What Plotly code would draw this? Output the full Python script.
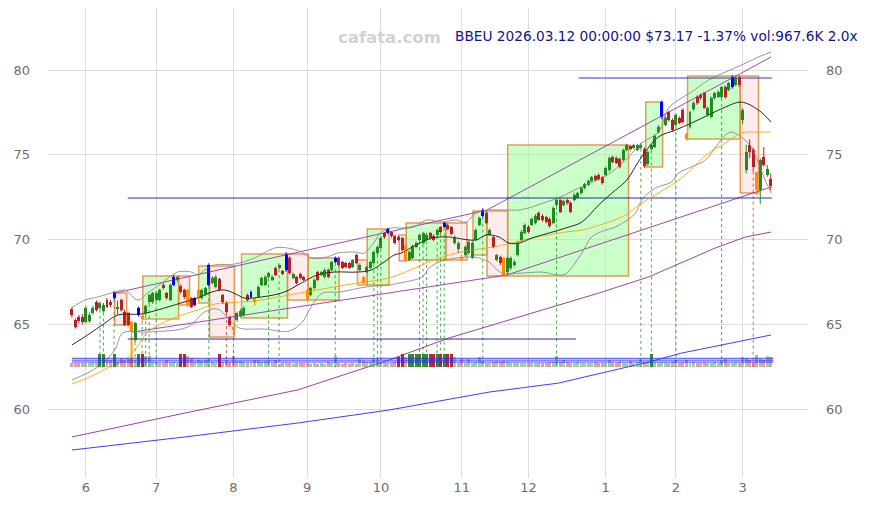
import pandas as pd
import plotly.graph_objects as go

# --- datos ---
TITLE_TXT = "BBEU 2026.03.12 00:00:00 $73.17 -1.37% vol:967.6K 2.0x"
WATERMARK = "cafata.com"

HOLIDAYS = ["2025-06-19", "2025-07-04", "2025-09-01", "2025-11-27",
            "2025-12-25", "2026-01-01", "2026-01-19", "2026-02-16"]

opens = [65.90, 65.25, 65.43, 65.43, 65.13, 65.20, 65.66, 66.31, 65.96, 65.78,
         66.43, 66.31, 66.55, 65.95, 66.43, 65.72, 65.66, 65.13, 64.07, 65.55,
         65.49, 65.66, 66.31, 66.31, 66.43, 66.43, 67.32, 66.84, 66.43, 67.32,
         67.61, 67.26, 67.02, 67.02, 66.55, 66.14, 66.55, 66.55, 66.73, 67.32,
         67.43, 67.20, 67.67, 66.73, 66.25, 65.43, 64.84, 65.25, 65.49, 65.55,
         66.73, 66.61, 66.55, 66.61, 67.32, 67.32, 67.79, 67.61, 68.32, 68.32,
         68.14, 68.20, 68.91, 67.73, 67.79, 67.97, 67.79, 67.02, 66.73, 67.14,
         68.08, 67.91, 67.79, 68.20, 68.20, 68.67, 68.91, 68.67, 68.61, 68.61,
         68.38, 69.08, 68.20, 67.79, 68.08, 68.32, 68.61, 69.20, 69.50, 70.38,
         70.38, 70.44, 70.21, 70.15, 70.09, 69.68, 68.79, 68.91, 69.56, 69.97,
         69.79, 69.97, 70.38, 70.21, 70.27, 70.74, 70.74, 70.86, 70.74, 69.79,
         69.44, 68.97, 69.08, 69.20, 68.91, 69.97, 70.86, 71.39, 71.56, 70.27,
         70.15, 68.79, 68.97, 68.91, 68.08, 68.32, 68.50, 69.08, 69.97, 70.38,
         70.74, 70.86, 70.97, 71.56, 71.39, 71.33, 71.21, 70.97, 72.04, 72.33,
         72.04, 72.33, 72.15, 72.33, 72.45, 72.74, 73.04, 73.22, 73.45, 73.75,
         73.81, 73.69, 73.81, 74.10, 74.87, 74.81, 74.75, 74.69, 75.28, 75.52,
         75.40, 75.28, 75.40, 75.34, 74.45, 75.34, 75.46, 76.34, 77.23, 76.76,
         77.52, 77.05, 76.76, 77.17, 77.64, 76.22, 76.64, 77.70, 78.41, 78.53,
         78.64, 77.35, 77.23, 78.35, 78.41, 78.41, 78.99, 78.82, 78.99, 79.11,
         79.53, 77.05, 74.10, 75.58, 75.28, 73.98, 72.92, 74.87, 73.81, 73.57]

highs = [66.00, 65.35, 65.55, 65.60, 66.10, 65.70, 66.10, 66.40, 66.35, 66.25,
         66.55, 66.45, 66.95, 66.40, 66.50, 65.85, 65.75, 65.20, 65.15, 66.05,
         65.60, 66.15, 66.80, 66.90, 66.95, 67.10, 67.45, 66.90, 67.40, 67.90,
         67.85, 67.35, 67.10, 67.10, 66.60, 66.60, 67.10, 67.10, 67.20, 68.60,
         67.85, 67.90, 67.75, 66.80, 66.35, 65.50, 64.90, 65.75, 65.90, 66.05,
         66.80, 67.00, 66.60, 67.30, 67.80, 67.90, 68.10, 67.90, 68.40, 68.60,
         68.20, 69.25, 69.00, 68.05, 67.85, 68.05, 67.85, 67.10, 67.20, 67.70,
         68.15, 68.15, 68.30, 68.30, 68.75, 69.00, 69.00, 68.75, 68.70, 68.70,
         68.85, 69.15, 68.60, 67.85, 68.45, 68.75, 69.35, 69.65, 70.20, 70.45,
         70.70, 70.50, 70.30, 70.25, 70.15, 69.75, 69.35, 69.70, 69.90, 70.35,
         70.45, 70.40, 70.45, 70.30, 70.65, 70.80, 71.05, 70.95, 70.80, 70.25,
         69.90, 69.10, 69.65, 69.95, 69.90, 70.65, 71.35, 71.85, 71.65, 70.65,
         70.20, 69.15, 69.05, 69.00, 69.00, 69.00, 68.80, 69.90, 70.55, 70.95,
         70.85, 71.30, 71.50, 71.65, 71.50, 71.40, 71.30, 71.95, 72.45, 72.45,
         72.35, 72.45, 72.25, 72.75, 72.80, 73.10, 73.35, 73.55, 73.75, 73.85,
         73.90, 73.75, 74.30, 74.90, 74.95, 74.90, 74.85, 75.35, 75.65, 75.60,
         75.65, 75.65, 75.70, 75.45, 75.25, 75.65, 76.20, 76.75, 78.20, 77.30,
         77.60, 77.15, 77.45, 77.25, 77.75, 76.30, 77.60, 78.15, 78.50, 78.60,
         78.70, 77.85, 78.45, 78.70, 78.80, 79.05, 79.10, 79.30, 79.70, 79.60,
         79.65, 77.75, 75.60, 75.90, 75.40, 74.00, 74.80, 75.46, 74.40, 73.90]

lows = [65.40, 64.75, 65.05, 65.00, 65.05, 65.10, 65.55, 65.75, 65.85, 65.70,
        65.95, 66.00, 66.45, 65.55, 65.75, 64.90, 64.85, 64.30, 63.95, 65.45,
        65.20, 65.55, 66.20, 66.20, 66.35, 66.35, 67.05, 66.45, 66.35, 67.25,
        67.50, 66.80, 66.50, 66.00, 65.95, 66.05, 66.50, 66.45, 66.65, 67.25,
        67.35, 67.10, 66.95, 66.20, 65.60, 64.85, 64.55, 65.15, 65.40, 65.45,
        66.35, 66.55, 66.10, 66.55, 67.25, 67.25, 67.70, 67.55, 67.85, 68.25,
        67.90, 68.10, 67.95, 67.65, 67.35, 67.65, 67.55, 66.30, 66.65, 67.05,
        67.55, 67.85, 67.70, 67.70, 68.10, 68.60, 68.40, 68.25, 68.30, 68.25,
        68.30, 68.55, 68.10, 67.35, 68.00, 68.25, 68.55, 69.10, 69.45, 70.05,
        70.30, 70.10, 69.70, 69.90, 69.30, 68.70, 68.70, 68.85, 69.50, 69.90,
        69.70, 69.90, 70.00, 69.90, 70.20, 70.35, 70.70, 70.55, 70.25, 69.70,
        69.20, 68.75, 69.00, 69.10, 68.85, 69.90, 70.80, 71.30, 70.90, 70.20,
        69.50, 68.70, 68.50, 67.85, 67.95, 68.20, 68.40, 69.00, 69.90, 70.30,
        70.35, 70.80, 70.90, 71.10, 71.05, 70.95, 70.70, 70.90, 71.95, 71.55,
        71.95, 72.05, 71.55, 72.25, 72.40, 72.65, 72.95, 73.15, 73.40, 73.45,
        73.50, 73.25, 73.75, 74.00, 74.50, 74.45, 74.20, 74.60, 75.20, 75.25,
        75.35, 75.20, 75.35, 74.20, 74.35, 75.25, 75.40, 76.25, 77.10, 76.70,
        76.95, 76.35, 76.70, 76.80, 76.85, 75.85, 76.55, 77.60, 77.95, 78.25,
        77.70, 77.25, 77.15, 78.25, 78.35, 78.35, 78.30, 78.75, 78.90, 79.05,
        79.00, 76.80, 73.90, 74.80, 74.00, 72.60, 72.10, 74.30, 73.70, 72.90]

closes = [65.55, 64.84, 65.19, 65.13, 65.96, 65.55, 65.96, 65.84, 66.25, 66.14,
          66.02, 66.14, 66.84, 66.00, 65.84, 64.96, 64.96, 64.54, 65.07, 65.96,
          65.31, 66.08, 66.73, 66.84, 66.84, 67.02, 67.14, 66.55, 67.32, 67.79,
          67.79, 66.90, 66.61, 66.14, 66.02, 66.55, 67.02, 67.02, 67.14, 68.50,
          67.73, 67.79, 67.02, 66.31, 65.72, 64.96, 64.66, 65.66, 65.78, 65.96,
          66.43, 66.90, 66.31, 67.20, 67.73, 67.79, 68.02, 67.79, 67.91, 68.50,
          67.97, 69.14, 68.02, 67.97, 67.43, 67.73, 67.61, 66.43, 67.14, 67.61,
          67.61, 68.08, 68.20, 67.79, 68.67, 68.91, 68.50, 68.32, 68.38, 68.32,
          68.79, 68.61, 68.50, 67.43, 68.38, 68.67, 69.26, 69.56, 70.09, 70.15,
          70.62, 70.21, 69.79, 69.97, 69.38, 68.79, 69.26, 69.62, 69.79, 70.27,
          70.38, 70.27, 70.09, 69.97, 70.56, 70.44, 70.97, 70.62, 70.32, 70.15,
          69.79, 68.85, 69.56, 69.85, 69.79, 70.56, 71.27, 71.74, 70.97, 70.56,
          69.56, 69.08, 68.61, 67.91, 68.91, 68.91, 68.67, 69.79, 70.44, 70.86,
          70.44, 71.21, 71.39, 71.15, 71.15, 71.03, 70.80, 71.86, 72.33, 71.62,
          72.27, 72.15, 71.62, 72.63, 72.74, 73.04, 73.28, 73.45, 73.69, 73.51,
          73.57, 73.33, 74.22, 74.81, 74.57, 74.51, 74.28, 75.28, 75.58, 75.34,
          75.58, 75.58, 75.58, 74.34, 75.16, 75.58, 76.11, 76.64, 78.11, 77.17,
          77.05, 76.46, 77.35, 76.87, 76.93, 75.93, 77.52, 78.05, 78.05, 78.35,
          77.76, 77.76, 78.35, 78.64, 78.70, 78.99, 78.41, 79.23, 79.59, 79.53,
          79.11, 77.64, 75.16, 75.16, 74.28, 72.92, 74.69, 74.40, 74.19, 73.17]

# volumen en miles
volumes = [380, 420, 350, 400, 420, 380, 450, 400, 1320, 1320,
           700, 650, 1320, 500, 950, 600, 750, 800, 400, 1320,
           1320, 1150, 1100, 450, 400, 420, 350, 700, 400, 450,
           420, 1320, 1320, 1100, 950, 500, 650, 600, 700, 800,
           450, 400, 1320, 500, 650, 450, 1100, 600, 550, 450,
           350, 400, 700, 650, 500, 600, 650, 400, 700, 300,
           350, 350, 400, 300, 350, 350, 400, 350, 300, 400,
           300, 350, 300, 450, 400, 1100, 350, 300, 400, 300,
           350, 300, 750, 600, 500, 500, 950, 750, 400, 350,
           400, 350, 450, 1040, 1320, 1000, 1320, 1320, 1320, 1320,
           1320, 1320, 1320, 1320, 1320, 1320, 1320, 1320, 1320, 1000,
           400, 850, 350, 850, 400, 450, 1000, 600, 400, 350,
           500, 600, 450, 600, 500, 400, 350, 400, 350, 380,
           400, 350, 420, 380, 350, 400, 500, 500, 1100, 500,
           700, 450, 400, 400, 450, 400, 420, 380, 400, 450,
           400, 400, 400, 700, 400, 400, 450, 400, 400, 590,
           400, 450, 760, 500, 450, 1320, 450, 400, 500, 450,
           400, 450, 700, 420, 450, 700, 400, 450, 420, 400,
           450, 400, 420, 450, 420, 700, 760, 400, 420, 450,
           400, 1000, 950, 700, 450, 1200, 800, 700, 1100, 967.6]
vol_strong = [8, 9, 12, 19, 20, 31, 32, 42, 93, 94, 96, 97, 98, 99, 100,
              101, 102, 103, 104, 105, 106, 107, 108, 165]
vol_levels = [484, 680, 875]

blue_idx = [12, 19, 29, 35, 39, 51, 61, 75, 90, 106, 117, 168, 188]
orange_idx = [17, 20, 33, 36, 46, 52, 67, 83, 95, 111, 123, 175, 195]

# medias y bandas (índice, precio)
ma_fast_x = [0, 4.5, 9.4, 13.1, 19.6, 24.4, 31.0, 35.8, 39.8, 43.5, 47.2, 49.1, 54.0,
             60.5, 65.3, 69.9, 74.7, 81.3, 85.2, 88.9, 91.8, 93.8, 98.0, 102.6, 107.4,
             109.4, 115.1, 117.9, 121.6, 124.4, 127.3, 131.0, 135.8, 140.6, 145.2,
             150.0, 154.8, 158.0, 162.2, 167.0, 171.9, 176.4, 181.3, 186.1, 190.6,
             195.5, 199.1]
ma_fast_y = [63.78, 64.37, 65.07, 65.55, 65.60, 65.84, 66.25, 66.55, 66.90, 67.02,
             66.73, 66.55, 66.61, 66.90, 67.43, 67.91, 68.08, 68.08, 68.20, 68.67,
             69.09, 69.20, 69.68, 70.09, 70.15, 70.09, 69.97, 70.27, 70.15, 69.79,
             69.79, 70.09, 70.38, 70.68, 71.03, 72.04, 72.92, 73.51, 74.87, 76.05,
             76.46, 76.87, 77.35, 77.82, 78.11, 77.64, 76.93]

ma_slow_x = [0, 5.1, 10.2, 15.1, 17.9, 21.6, 26.4, 31.3, 35.8, 40.6, 48.0, 54.0,
             61.9, 71.3, 81.0, 90.3, 99.7, 104.5, 112.2, 121.6, 131.0, 140.6, 145.2,
             152.0, 157.7, 162.2, 167.0, 173.6, 181.3, 186.1, 190.6, 195.5, 199.1]
ma_slow_y = [61.47, 61.89, 62.42, 62.89, 63.48, 64.54, 65.13, 65.55, 65.84, 66.19,
             66.31, 66.43, 66.73, 67.08, 67.43, 67.73, 68.50, 68.91, 69.32, 69.62,
             70.09, 70.44, 70.56, 70.97, 71.45, 72.15, 72.74, 73.63, 75.10, 75.69,
             76.28, 76.34, 76.34]

bb_up_x = [0, 3.7, 7.4, 12.2, 15.1, 18.8, 21.6, 25.6, 30.1, 34.1, 35.8, 37.8, 40.6,
           46.3, 52.0, 57.7, 61.4, 65.3, 68.2, 72.7, 75.6, 80.4, 83.2, 86.1, 88.1,
           90.9, 93.8, 97.4, 100.9, 105.4, 109.4, 112.2, 115.1, 118.8, 124.4, 127.3,
           131.0, 135.0, 138.6, 144.3, 152.0, 157.7, 162.2, 167.0, 169.9, 172.7,
           176.4, 181.3, 186.1, 190.6, 195.5, 199.1]
bb_up_y = [65.96, 66.43, 66.61, 66.90, 67.02, 66.43, 66.84, 67.43, 68.08, 68.08,
           67.91, 68.20, 68.50, 68.55, 68.91, 69.50, 69.50, 69.26, 68.91, 68.97,
           69.20, 69.26, 69.20, 69.85, 70.44, 70.68, 70.68, 70.74, 71.15, 71.03,
           71.15, 71.03, 71.56, 71.74, 71.74, 71.74, 71.92, 72.21, 72.45, 73.04,
           73.75, 74.69, 75.69, 76.34, 77.76, 78.23, 78.70, 79.41, 79.88, 80.29,
           80.77, 81.06]

bb_lo_x = [0, 7.4, 12.2, 14.5, 21.6, 33.0, 37.8, 41.5, 44.9, 47.7, 54.8, 61.9, 65.6,
           67.6, 69.0, 71.3, 76.1, 83.8, 90.3, 93.2, 99.7, 101.7, 104.5, 106.5, 109.4,
           113.1, 115.9, 118.8, 122.4, 128.1, 133.8, 138.6, 140.6, 145.2, 148.0,
           152.0, 154.8, 160.5, 162.2, 166.2, 170.7, 172.7, 176.4, 180.4, 184.1,
           186.1, 187.8, 190.6, 193.5, 195.5, 197.4, 199.1]
bb_lo_y = [61.71, 62.48, 63.48, 64.48, 64.54, 64.84, 65.72, 65.90, 65.25, 64.78,
           64.72, 64.60, 65.13, 65.84, 66.31, 66.84, 66.90, 67.20, 67.32, 67.43,
           67.79, 68.32, 68.67, 68.79, 68.91, 68.97, 68.91, 68.67, 68.02, 68.02,
           68.08, 67.91, 67.97, 69.20, 70.15, 70.56, 70.74, 71.56, 72.33, 73.04,
           73.39, 73.92, 74.28, 74.69, 75.69, 76.17, 76.34, 76.05, 75.46, 74.51,
           73.51, 72.74]

ma_long1_x = [0, 32.1, 64.2, 90.3, 107.4, 138.6, 150.0, 164.2, 171.9, 183.2, 191.8, 199.1]
ma_long1_y = [58.35, 59.76, 61.12, 62.89, 64.19, 66.14, 66.84, 67.79, 68.50, 69.50, 70.15, 70.44]

ma_long2_x = [0, 32.1, 64.2, 90.3, 118.8, 138.6, 143.5, 164.2, 173.6, 183.2, 192.6, 199.1]
ma_long2_y = [57.58, 58.35, 59.17, 59.94, 61.00, 61.53, 61.77, 62.77, 63.30, 63.72, 64.13, 64.37]

trend_hi_x = [12.2, 118.2, 199.1]
trend_hi_y = [66.84, 71.74, 80.77]
trend_lo_x = [17.3, 123.9, 199.1]
trend_lo_y = [64.54, 67.91, 73.10]

# niveles horizontales: (desde, hasta, precio)
levels = [(15.9, 199.3, 72.45), (15.9, 143.5, 64.13), (144.3, 199.3, 79.53)]

# cajas de rango: (x0, x1, precio bajo, precio alto, tipo)
boxes = [(12.2, 15.6, 64.96, 66.84, "dn"), (20.2, 30.4, 65.31, 67.85, "up"),
         (30.4, 33.5, 66.14, 67.85, "dn"), (36.1, 39.2, 66.25, 68.44, "up"),
         (39.2, 46.3, 64.25, 68.44, "dn"), (48.3, 61.4, 65.37, 69.14, "up"),
         (61.4, 67.3, 66.43, 69.14, "dn"), (67.3, 76.1, 66.43, 68.91, "up"),
         (81.3, 84.1, 67.32, 68.79, "dn"), (84.1, 90.3, 67.32, 70.62, "up"),
         (93.2, 95.2, 68.73, 70.27, "dn"), (95.2, 106.5, 68.79, 70.97, "up"),
         (106.5, 112.5, 68.79, 70.97, "dn"), (114.2, 118.2, 69.08, 71.68, "up"),
         (118.2, 124.1, 67.85, 71.68, "dn"), (124.1, 158.5, 67.85, 75.58, "up"),
         (163.4, 168.2, 74.28, 78.11, "up"), (175.3, 190.3, 75.93, 79.65, "up"),
         (190.3, 195.5, 72.74, 79.65, "dn")]

sig_buy = [8, 9, 12, 18, 20, 21, 22, 24, 39, 46, 56, 59, 75, 86, 87, 88, 99, 100,
           101, 104, 105, 106, 117, 138, 162, 165, 172, 185]
sig_sell = [44, 194]
sig_strong = [17]
SIG_BASE = 62.48

# --- fechas de negociación ---
dates = [d for d in pd.bdate_range("2025-05-27", "2026-03-12") if d.strftime("%Y-%m-%d") not in HOLIDAYS]
n = len(dates)
xi = list(range(n))
month_idx = [i for i in range(1, n) if dates[i].month != dates[i - 1].month]
month_lbl = [str(dates[i].month) for i in month_idx]

GREEN = "rgb(34,139,34)"
RED = "rgb(190,30,35)"
BLUE = "rgb(0,0,255)"
ORANGE = "rgb(255,140,0)"

fig = go.Figure()

# cajas
for x0, x1, lo, hi, kind in boxes:
    fill = "rgba(150,255,150,0.5)" if kind == "up" else "rgba(250,200,200,0.35)"
    fig.add_shape(type="rect", x0=x0, x1=x1, y0=lo, y1=hi, xref="x", yref="y",
                  fillcolor=fill, line=dict(color="rgba(225,140,60,0.85)", width=1.5),
                  layer="between")

# líneas verticales de señales
def vlines(idx):
    vx, vy = [], []
    for i in idx:
        vx += [i, i, None]
        vy += [lows[i], SIG_BASE, None]
    return vx, vy

vx, vy = vlines(sig_buy)
fig.add_trace(go.Scatter(x=vx, y=vy, mode="lines", line=dict(color="rgba(0,140,0,0.7)", width=1, dash="dot"), hoverinfo="skip"))
vx, vy = vlines(sig_sell)
fig.add_trace(go.Scatter(x=vx, y=vy, mode="lines", line=dict(color="rgba(200,0,0,0.6)", width=1, dash="dot"), hoverinfo="skip"))
vx, vy = vlines(sig_strong)
fig.add_trace(go.Scatter(x=vx, y=vy, mode="lines", line=dict(color="orange", width=2), hoverinfo="skip"))

# medias largas y tendencias
fig.add_trace(go.Scatter(x=ma_long2_x, y=ma_long2_y, mode="lines", line=dict(color="rgba(40,40,255,0.9)", width=1), hoverinfo="skip"))
fig.add_trace(go.Scatter(x=ma_long1_x, y=ma_long1_y, mode="lines", line=dict(color="rgba(140,30,150,0.85)", width=1), hoverinfo="skip"))
fig.add_trace(go.Scatter(x=trend_hi_x, y=trend_hi_y, mode="lines", line=dict(color="rgba(150,40,160,0.85)", width=1), hoverinfo="skip"))
fig.add_trace(go.Scatter(x=trend_lo_x, y=trend_lo_y, mode="lines", line=dict(color="rgba(150,40,160,0.85)", width=1), hoverinfo="skip"))

# bandas de Bollinger
fig.add_trace(go.Scatter(x=bb_up_x, y=bb_up_y, mode="lines", line=dict(color="rgba(140,140,140,0.9)", width=1, shape="spline"), hoverinfo="skip"))
fig.add_trace(go.Scatter(x=bb_lo_x, y=bb_lo_y, mode="lines", line=dict(color="rgba(140,140,140,0.9)", width=1, shape="spline"), hoverinfo="skip"))

# niveles horizontales
for x0, x1, p in levels[:2]:
    fig.add_trace(go.Scatter(x=[x0, x1], y=[p, p], mode="lines", line=dict(color="rgba(20,20,170,0.9)", width=1), hoverinfo="skip"))

# medias móviles
fig.add_trace(go.Scatter(x=ma_slow_x, y=ma_slow_y, mode="lines", line=dict(color="rgba(255,165,0,0.9)", width=1, shape="spline"), hoverinfo="skip"))
fig.add_trace(go.Scatter(x=ma_fast_x, y=ma_fast_y, mode="lines", line=dict(color="rgba(20,20,20,0.9)", width=1, shape="spline"), hoverinfo="skip"))

# velas
special = set(blue_idx) | set(orange_idx)
up_idx = [i for i in xi if i not in special and closes[i] >= opens[i]]
dn_idx = [i for i in xi if i not in special and closes[i] < opens[i]]

def add_candles(idx, color):
    wx, wy = [], []
    for i in idx:
        wx += [i, i, None]
        wy += [lows[i], highs[i], None]
    fig.add_trace(go.Scatter(x=wx, y=wy, mode="lines", line=dict(color=color, width=1), hoverinfo="skip"))
    fig.add_trace(go.Bar(x=idx, y=[max(abs(closes[i] - opens[i]), 0.04) for i in idx],
                         base=[min(opens[i], closes[i]) for i in idx], width=0.85,
                         marker=dict(color=color, line=dict(width=0)), hoverinfo="skip"))

add_candles(up_idx, GREEN)
add_candles(dn_idx, RED)
add_candles(blue_idx, BLUE)
add_candles(orange_idx, ORANGE)

# nivel superior en el eje derecho
x0, x1, p = levels[2]
fig.add_trace(go.Scatter(x=[x0, x1], y=[p, p], mode="lines", yaxis="y2",
                         line=dict(color="rgba(30,30,230,0.9)", width=1), hoverinfo="skip"))

# volumen
vol_col = []
for i in xi:
    up = closes[i] >= opens[i]
    if i in vol_strong:
        vol_col.append("rgb(46,140,46)" if up else "rgb(185,40,45)")
    else:
        vol_col.append("rgba(46,140,46,0.45)" if up else "rgba(185,40,45,0.45)")
fig.add_trace(go.Bar(x=xi, y=volumes, yaxis="y3", width=0.85, marker=dict(color=vol_col, line=dict(width=0)), hoverinfo="skip"))
for lv in vol_levels:
    fig.add_trace(go.Scatter(x=[0, n - 1 + 0.8], y=[lv, lv], yaxis="y3", mode="lines",
                             line=dict(color="rgba(40,40,255,0.85)", width=1), hoverinfo="skip"))

# textos
fig.add_annotation(x=0.4487, y=0.9617, xref="paper", yref="paper", text="<b>" + WATERMARK + "</b>", showarrow=False,
                   font=dict(size=16.5, color="rgb(210,210,210)", family="DejaVu Sans"))
fig.add_annotation(x=1.0684, y=0.9617, xref="paper", yref="paper", text=TITLE_TXT, showarrow=False,
                   xanchor="right", font=dict(size=13.7, color="rgb(20,20,140)", family="DejaVu Sans"))

y_rng = [55.93, 83.66]
axis_font = dict(size=13, color="rgb(110,110,110)", family="DejaVu Sans")
fig.update_layout(
    width=862, height=497,
    margin=dict(l=40, r=62, t=0, b=27, autoexpand=False),
    plot_bgcolor="white", paper_bgcolor="white",
    showlegend=False, barmode="overlay", bargap=0,
    font=dict(family="DejaVu Sans"),
    xaxis=dict(range=[-6.8, 209.6], tickmode="array", tickvals=month_idx, ticktext=month_lbl,
               showgrid=True, gridcolor="rgb(222,222,222)", zeroline=False, showline=False,
               tickfont=axis_font, ticks="", automargin=False),
    yaxis=dict(range=y_rng, tickvals=[60, 65, 70, 75, 80], showgrid=True, gridcolor="rgb(222,222,222)",
               zeroline=False, showline=False, tickfont=axis_font, ticklabelstandoff=17, automargin=False),
    yaxis2=dict(range=y_rng, overlaying="y", side="right", tickvals=[60, 65, 70, 75, 80], showgrid=False,
                zeroline=False, showline=False, tickfont=axis_font, ticklabelstandoff=17, automargin=False),
    yaxis3=dict(range=[-11575, 37305], overlaying="y", visible=False),
)

fig.write_html("out.html")
